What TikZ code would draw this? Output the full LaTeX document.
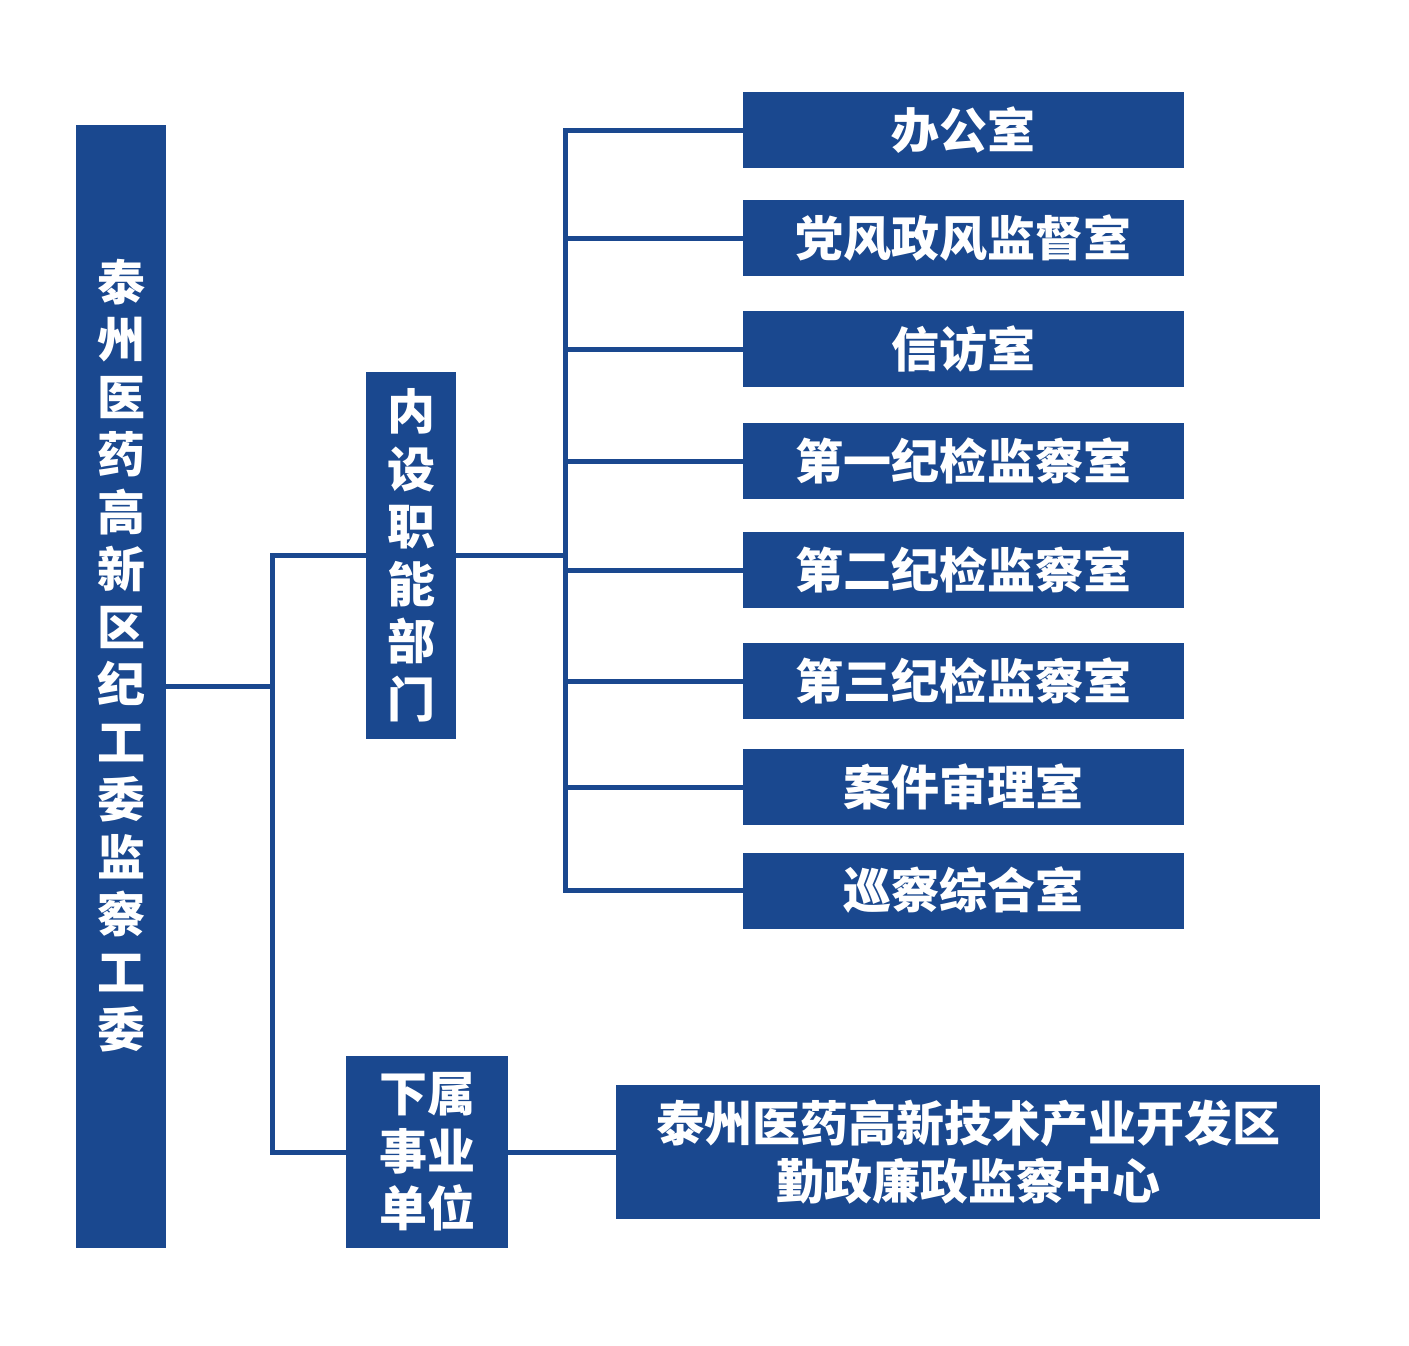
\documentclass[tikz,border=0pt]{standalone}
\usepackage{fontspec}
\newfontfamily\cjk{Noto Sans CJK SC}
\usetikzlibrary{positioning}
\definecolor{navy}{RGB}{26,72,143}

\begin{document}
\begin{tikzpicture}[x=1pt,y=-1pt]
  \tikzset{dept/.style = {fill=navy,text=white,inner sep=0pt,align=center,font=\cjk\bfseries\fontsize{48pt}{57.5pt}\selectfont}}
  \tikzset{office/.style = {dept,minimum width=441pt,minimum height=76pt}}
  \tikzset{link/.style = {draw=navy,line width=5pt}}

  \useasboundingbox (0,0) rectangle (1409,1345);

	\node[dept,minimum width=90pt,minimum height=1123pt,
	  label={[dept,fill=none,yshift=31pt]center:{泰\\州\\医\\药\\高\\新\\区\\纪\\工\\委\\监\\察\\工\\委}}] (jgw) at (121,686.5) {};
	\node[dept,minimum width=90pt,minimum height=367pt] (nszn) at (411,555.5) {内\\设\\职\\能\\部\\门};
	\node[dept,minimum width=162pt,minimum height=192pt] (xsdw) at (427,1152) {下属\\事业\\单位};
	\node[dept,minimum width=704pt,minimum height=134pt] (jzzx) at (968,1152) {泰州医药高新技术产业开发区\\勤政廉政监察中心};

	\foreach \name/\y/\txt in {o1/130/办公室, o2/238/党风政风监督室, o3/349/信访室, o4/461/第一纪检监察室,
	    o5/570/第二纪检监察室, o6/681/第三纪检监察室, o7/787/案件审理室, o8/890.5/巡察综合室}
	  \node[office] (\name) at (963.5,\y) {\txt};

	\coordinate (lt) at (272,0);
	\coordinate (rt) at (565,0);

	\draw[link] (jgw.east) -- (jgw.east -| lt);
	\draw[link] (nszn.west) -- (nszn.west -| lt) -- (xsdw.west -| lt) -- (xsdw.west);
	\draw[link] (xsdw.east) -- (jzzx.west);

	\draw[link] (nszn.east) -- (nszn.east -| rt);
	\draw[link] (o1.west) -- (o1.west -| rt) -- (o8.west -| rt) -- (o8.west);
       \foreach \to in {o2,o3,o4,o5,o6,o7}
	  \draw[link] (\to.west -| rt) -- (\to.west);
\end{tikzpicture}
\end{document}
